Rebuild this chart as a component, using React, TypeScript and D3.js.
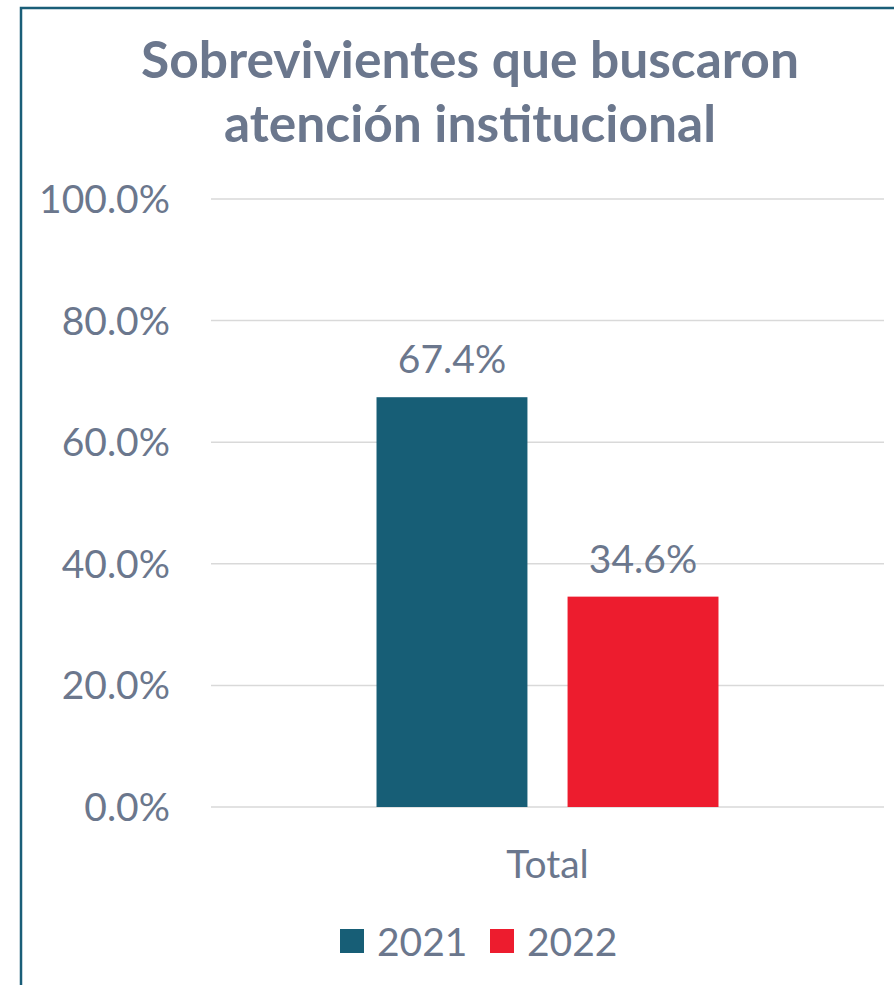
import React from "react";
import * as d3 from "d3";

const categories = ["Total"];
const seriesNames = ["2021", "2022"];
const seriesValues = [[0.674], [0.346]];
const seriesColors = ["#175e76", "#ed1c2e"];
const yTicks = [0, 0.2, 0.4, 0.6, 0.8, 1.0];
const titleLines = ["Sobrevivientes que buscaron", "atención institucional"];

const W = 894;
const H = 985;
const textColor = "#6b778d";
const font = "Lato, 'Noto Sans', sans-serif";

const App = () => {
  const y = d3.scaleLinear().domain([0, 1]).range([807, 199]);
  const x0 = d3.scaleBand().domain(categories).range([211, 884]).paddingInner(0).paddingOuter(0.484);
  const x1 = d3.scaleBand().domain(seriesNames).range([0, x0.bandwidth()]).paddingInner(0.21).paddingOuter(0);
  const fmt = d3.format(".1%");

  return (
    <svg width={W} height={H} style={{ position: "absolute", left: 0, top: 0, background: "#fff" }} fontFamily={font}>
      <rect x={21} y={8} width={W + 100} height={H + 100} fill="#fff" stroke="#1a5e78" strokeWidth={2.5} />

      {/* title */}
      {titleLines.map((t, i) => (
        <text key={t} x={470} y={78 + i * 64} textAnchor="middle" fontSize={51.5} fontWeight={700} fill={textColor}>
          {t}
        </text>
      ))}

      {/* grid + y ticks */}
      {yTicks.map(t => (
        <g key={t}>
          <line x1={211} x2={884} y1={y(t)} y2={y(t)} stroke="#d9d9d9" strokeWidth={1.5} />
          <text x={170} y={y(t) + 14} textAnchor="end" fontSize={39} fill={textColor}>
            {fmt(t)}
          </text>
        </g>
      ))}

      {/* bars */}
      {categories.map((c, ci) => (
        <g key={c} transform={`translate(${x0(c)},0)`}>
          {seriesNames.map((s, si) => {
            const v = seriesValues[si][ci];
            const bx = x1(s) as number;
            return (
              <g key={s}>
                <rect x={bx} y={y(v)} width={x1.bandwidth()} height={y(0) - y(v)} fill={seriesColors[si]} />
                <text x={bx + x1.bandwidth() / 2} y={y(v) - 24} textAnchor="middle" fontSize={39} fill={textColor}>
                  {fmt(v)}
                </text>
              </g>
            );
          })}
          <text x={x0.bandwidth() / 2} y={878} textAnchor="middle" fontSize={39} fill={textColor}>
            {c}
          </text>
        </g>
      ))}

      {/* legend */}
      {seriesNames.map((s, i) => (
        <g key={s} transform={`translate(${340 + i * 150},929)`}>
          <rect x={0} y={0} width={24} height={24} fill={seriesColors[i]} />
          <text x={37} y={27} fontSize={39} fill={textColor}>
            {s}
          </text>
        </g>
      ))}
    </svg>
  );
};

export default App;
